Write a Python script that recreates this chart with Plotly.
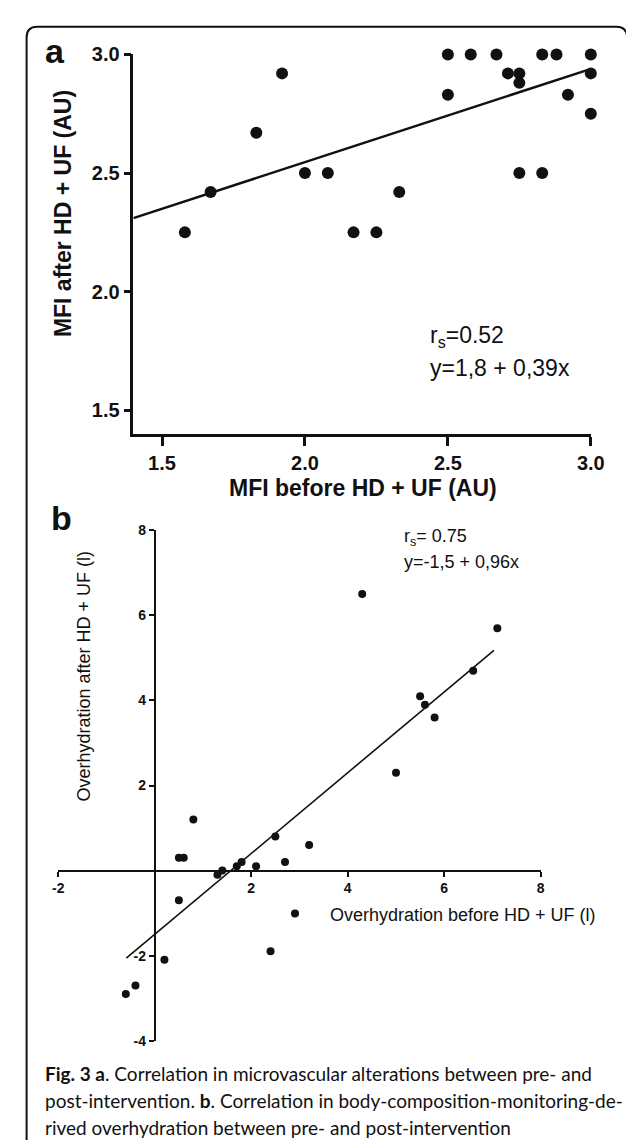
import plotly.graph_objects as go

W, H = 634, 1140

# ---------------- data: panel a (MFI) ----------------
mfi_before = [1.58, 1.67, 1.83, 1.92, 2.00, 2.08, 2.17, 2.25, 2.33, 2.50, 2.50, 2.58,
              2.67, 2.71, 2.75, 2.75, 2.75, 2.83, 2.83, 2.88, 2.92, 3.00, 3.00, 3.00]
mfi_after = [2.25, 2.42, 2.67, 2.92, 2.50, 2.50, 2.25, 2.25, 2.42, 3.00, 2.83, 3.00,
             3.00, 2.92, 2.92, 2.88, 2.50, 3.00, 2.50, 3.00, 2.83, 3.00, 2.92, 2.75]
fit_a_x = [1.40, 2.99]
fit_a_y = [2.31, 2.935]
ticks_a = [1.5, 2.0, 2.5, 3.0]
tick_text_a = ["1.5", "2.0", "2.5", "3.0"]

# ---------------- data: panel b (overhydration) ----------------
oh_before = [7.1, 6.6, 5.5, 5.6, 5.8, 5.0, 4.3, 0.8, 2.5, 3.2, 0.5, 0.6, 2.7, 1.8,
             1.7, 2.1, 1.4, 1.3, 0.5, 2.4, 0.2, -0.4, -0.6]
oh_after = [5.7, 4.7, 4.1, 3.9, 3.6, 2.3, 6.5, 1.2, 0.8, 0.6, 0.3, 0.3, 0.2, 0.2,
            0.1, 0.1, 0.0, -0.1, -0.7, -1.9, -2.1, -2.7, -2.9]
fit_b_x = [-0.59, 7.03]
fit_b_y = [-2.06, 5.18]
ticks_bx = [-2, 2, 4, 6, 8]
tick_text_bx = ["-2", "2", "4", "6", "8"]
ticks_by = [-4, -2, 2, 4, 6, 8]
tick_text_by = ["-4", "-2", "2", "4", "6", "8"]


def px(x):
    return x / W


def py(y):
    return 1 - y / H


# axis domains (pixel positions in the page)
a_x_dom = [px(123.3), px(595.6)]
a_y_dom = [py(422.1), py(36)]
b_x_dom = [px(45.7), px(543.9)]
b_y_dom = [py(1039), py(520)]
a_range = [1.4, 3.0]
b_xr = [-2, 8]
b_yr = [-4, 8]

# positions of the crossing axes in panel b (where the other value is zero)
b_xaxis_pos = b_y_dom[0] + (0 - b_yr[0]) / (b_yr[1] - b_yr[0]) * (b_y_dom[1] - b_y_dom[0])
b_yaxis_pos = b_x_dom[0] + (0 - b_xr[0]) / (b_xr[1] - b_xr[0]) * (b_x_dom[1] - b_x_dom[0])

BLACK = "#111111"
FONT = "Arial, Liberation Sans, sans-serif"

fig = go.Figure()

# panel a
fig.add_trace(go.Scatter(x=fit_a_x, y=fit_a_y, mode="lines",
                         line=dict(color=BLACK, width=2.5), showlegend=False,
                         xaxis="x", yaxis="y", cliponaxis=False, hoverinfo="skip"))
fig.add_trace(go.Scatter(x=mfi_before, y=mfi_after, mode="markers",
                         marker=dict(color=BLACK, size=12), showlegend=False,
                         xaxis="x", yaxis="y", cliponaxis=False))

# panel b
fig.add_trace(go.Scatter(x=fit_b_x, y=fit_b_y, mode="lines",
                         line=dict(color=BLACK, width=1.6), showlegend=False,
                         xaxis="x2", yaxis="y2", cliponaxis=False, hoverinfo="skip"))
fig.add_trace(go.Scatter(x=oh_before, y=oh_after, mode="markers",
                         marker=dict(color=BLACK, size=8),
                         name="Overhydration before HD + UF (l)", showlegend=True,
                         xaxis="x2", yaxis="y2", cliponaxis=False))

fig.update_layout(
    width=W, height=H,
    margin=dict(l=0, r=0, t=0, b=0),
    paper_bgcolor="white", plot_bgcolor="rgba(0,0,0,0)",
    font=dict(family=FONT, color=BLACK),
    xaxis=dict(domain=a_x_dom, range=a_range, anchor="y", showgrid=False, zeroline=False,
               showline=True, linecolor=BLACK, linewidth=2.5, ticks="outside", ticklen=9,
               tickwidth=2.5, tickcolor=BLACK, tickvals=ticks_a, ticktext=tick_text_a,
               tickfont=dict(family=FONT, size=20, color=BLACK, weight="bold")),
    yaxis=dict(domain=a_y_dom, range=a_range, anchor="x", showgrid=False, zeroline=False,
               showline=True, linecolor=BLACK, linewidth=2.5, ticks="outside", ticklen=7,
               tickwidth=2.5, tickcolor=BLACK, tickvals=ticks_a, ticktext=tick_text_a,
               tickfont=dict(family=FONT, size=20, color=BLACK, weight="bold")),
    xaxis2=dict(domain=b_x_dom, range=b_xr, anchor="free", position=b_xaxis_pos,
                showgrid=False, zeroline=False, showline=True, linecolor=BLACK, linewidth=2,
                ticks="outside", ticklen=5, tickwidth=2, tickcolor=BLACK,
                tickvals=ticks_bx, ticktext=tick_text_bx,
                tickfont=dict(family=FONT, size=14, color=BLACK, weight="bold")),
    yaxis2=dict(domain=b_y_dom, range=b_yr, anchor="free", position=b_yaxis_pos,
                showgrid=False, zeroline=False, showline=True, linecolor=BLACK, linewidth=2,
                ticks="outside", ticklen=5, tickwidth=2, tickcolor=BLACK,
                tickvals=ticks_by, ticktext=tick_text_by,
                tickfont=dict(family=FONT, size=14, color=BLACK, weight="bold")),
    legend=dict(x=px(254), y=py(910), xanchor="left", yanchor="middle",
                bgcolor="rgba(0,0,0,0)", borderwidth=0, itemwidth=60,
                font=dict(family=FONT, size=18, color=BLACK)),
    showlegend=True,
)

ann = []


def text(x, y, s, size, bold=False, angle=0, xanchor="left", yanchor="middle", family=FONT):
    ann.append(dict(x=px(x), y=py(y), xref="paper", yref="paper", text=s, showarrow=False,
                    xanchor=xanchor, yanchor=yanchor, textangle=angle,
                    font=dict(family=family, size=size, color=BLACK,
                              weight="bold" if bold else "normal")))


# panel labels
text(42, 33, "a", 34, bold=True, xanchor="center")
text(49, 507, "b", 34, bold=True, xanchor="center")

# panel a titles & stats
text(360, 477, "MFI before HD + UF (AU)", 23, bold=True, xanchor="center")
text(50, 198, "MFI after HD + UF (AU)", 23, bold=True, angle=-90, xanchor="center")
text(428, 323, "r<sub>s</sub>=0.52", 23)
text(428, 355, "y=1,8 + 0,39x", 23)

# panel b titles & stats
text(72, 668, "Overhydration after HD + UF (l)", 18, angle=-90, xanchor="center")
text(401, 527, "r<sub>s</sub>= 0.75", 18)
text(401, 552, "y=-1,5 + 0,96x", 18)

# caption
CAP = "Lato, Open Sans, sans-serif"
text(30, 1072, "<b>Fig. 3 a</b>. Correlation in microvascular alterations between pre- and", 19, family=CAP)
text(30, 1100, "post-intervention. <b>b</b>. Correlation in body-composition-monitoring-de-", 19, family=CAP)
text(30, 1127, "rived overhydration between pre- and post-intervention", 19, family=CAP)

fig.update_layout(annotations=ann)

# rounded frame around the figure (open at the bottom / right edge)
fig.add_shape(type="path", xref="paper", yref="paper",
              path=(f"M {px(13)} {py(1140)} L {px(13)} {py(19)} "
                    f"Q {px(13)} {py(8)} {px(24)} {py(8)} "
                    f"L {px(622)} {py(8)} Q {px(633)} {py(8)} {px(633)} {py(19)} "
                    f"L {px(633)} {py(40)}"),
              line=dict(color=BLACK, width=2))

fig.write_html("out.html")
